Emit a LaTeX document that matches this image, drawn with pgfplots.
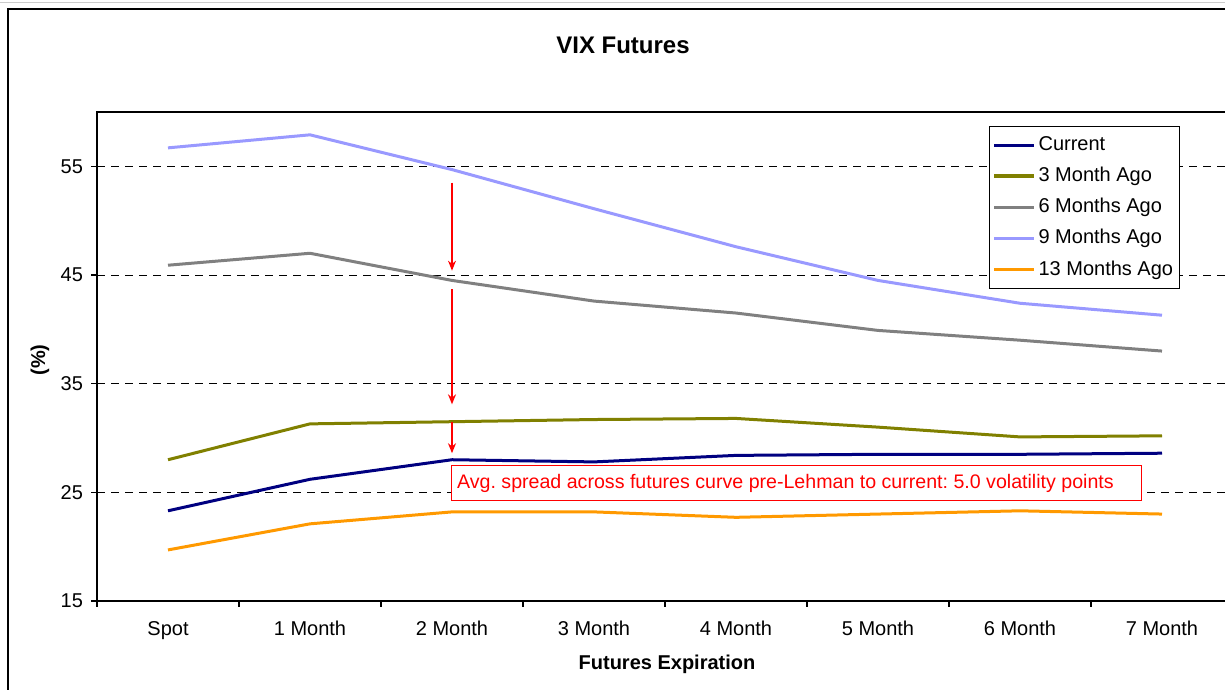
\documentclass[border=0pt]{standalone}
\usepackage{fontspec}
\setmainfont{Liberation Sans}
\usepackage{pgfplots}
\pgfplotsset{compat=1.18}
\usetikzlibrary{arrows.meta,calc}
\definecolor{cur}{RGB}{0,0,128}
\definecolor{m3}{RGB}{128,128,0}
\definecolor{m6}{RGB}{128,128,128}
\definecolor{m9}{RGB}{153,153,255}
\definecolor{m13}{RGB}{255,153,0}
\begin{document}
\begin{tikzpicture}[x=1pt,y=1pt]
\begin{axis}[
  name=ax,
  scale only axis, width=568pt, height=244.5pt,
  xmin=-0.5, xmax=7.5, ymin=15, ymax=60,
  xtick={0,...,7},
  xticklabels={Spot,1 Month,2 Month,3 Month,4 Month,5 Month,6 Month,7 Month},
  major x tick style={draw=none},
  minor xtick={-0.5,0.5,...,7.5},
  ytick={15,25,35,45,55},
  tick pos=left,
  tick align=outside,
  major tick length=3pt, minor tick length=3pt,
  ymajorgrids, grid style={black, dash pattern=on 4pt off 3pt, line width=0.5pt},
  axis line style={black, line width=0.8pt},
  tick style={black, line width=0.6pt},
  every tick label/.append style={font=\fontsize{10}{12}\selectfont},
  /pgf/number format/assume math mode=true,
  yticklabel style={xshift=-0.5pt},
  xticklabel style={yshift=-3.5pt},
  legend style={at={(0.953,0.971)}, anchor=north east, draw=black, line width=0.5pt,
    font=\fontsize{10}{12}\selectfont, row sep=2.8pt, inner xsep=1.5pt, inner ysep=3pt,
    nodes={inner xsep=1.5pt},
    cells={anchor=west}},
  legend image code/.code={\draw[#1] (0pt,0pt) -- (20pt,0pt);},
  every axis plot/.append style={line width=1.5pt, mark=none},
  clip=false,
]
\coordinate (O) at (rel axis cs:0,0);
\addplot[cur] coordinates {(0,23.3) (1,26.2) (2,28.0) (3,27.8) (4,28.4) (5,28.5) (6,28.5) (7,28.6)};
\addlegendentry{Current}
\addplot[m3] coordinates {(0,28.0) (1,31.3) (2,31.5) (3,31.7) (4,31.8) (5,31.0) (6,30.1) (7,30.2)};
\addlegendentry{3 Month Ago}
\addplot[m6] coordinates {(0,45.9) (1,47.0) (2,44.5) (3,42.6) (4,41.5) (5,39.9) (6,39.0) (7,38.0)};
\addlegendentry{6 Months Ago}
\addplot[m9] coordinates {(0,56.7) (1,57.9) (2,54.7) (3,51.1) (4,47.6) (5,44.5) (6,42.4) (7,41.3)};
\addlegendentry{9 Months Ago}
\addplot[m13] coordinates {(0,19.7) (1,22.1) (2,23.2) (3,23.2) (4,22.7) (5,23.0) (6,23.3) (7,23.0)};
\addlegendentry{13 Months Ago}
\draw[red, line width=0.7pt, -{Stealth[length=5pt,width=4pt]}] (axis cs:2,53.5) -- (axis cs:2,45.4);
\draw[red, line width=0.7pt, -{Stealth[length=5pt,width=4pt]}] (axis cs:2,43.7) -- (axis cs:2,33.1);
\draw[red, line width=0.7pt, -{Stealth[length=5pt,width=4pt]}] (axis cs:2,31.5) -- (axis cs:2,28.6);
\node[anchor=west, draw=red, fill=white, line width=0.6pt, text=red,
  font=\fontsize{9.8}{11.8}\selectfont\frenchspacing, minimum height=17.5pt, inner xsep=3pt]
  at (axis cs:1.99,25.85) {\makebox[339pt][l]{Avg. spread across futures curve pre-Lehman to current: 5.0 volatility points}};
\end{axis}
\pgfresetboundingbox
\useasboundingbox ($(O)+(-48.5,-44.5)$) rectangle ++(612.5,345);
\begin{scope}[shift={($(O)+(-48.5,-44.5)$)}]
\draw[gray!40, line width=0.6pt] (0,343.8) -- (612.5,343.8);
\draw[black, line width=0.8pt] (4,-5) -- (4,340.5) -- (620,340.5);
\node[font=\bfseries\fontsize{12}{14}\selectfont] at (311.5,322.5) {VIX Futures};
\node[font=\bfseries\fontsize{10}{12}\selectfont, rotate=90] at (20,165) {(\%)};
\node[font=\bfseries\fontsize{10}{12}\selectfont] at (333.5,13) {Futures Expiration};
\end{scope}
\end{tikzpicture}
\end{document}
